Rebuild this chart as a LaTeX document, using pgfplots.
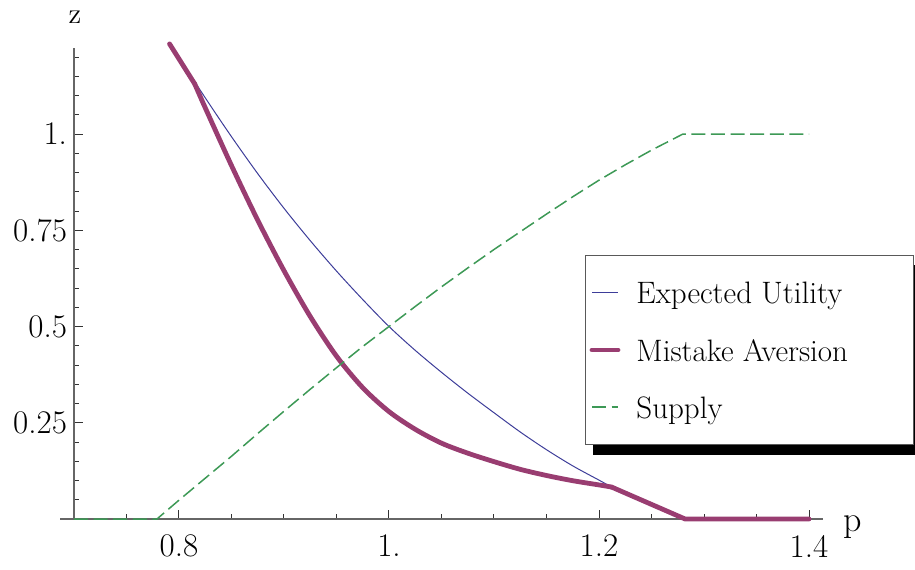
\documentclass[border=0pt]{standalone}
\usepackage{pgfplots}
\pgfplotsset{compat=1.18}
\usetikzlibrary{backgrounds}
\definecolor{eu}{rgb}{0.24,0.24,0.6}
\definecolor{ma}{rgb}{0.6,0.24,0.443}
\definecolor{sup}{rgb}{0.24,0.6,0.337}
\newcommand{\lgt}[1]{\makebox[140.5pt][l]{\hspace{6pt}\strut #1}}
\begin{document}
\begin{tikzpicture}
\useasboundingbox (0,0) rectangle (457.5pt,284.5pt);
\begin{axis}[
  at={(37pt,25pt)}, anchor=south west,
  x=525pt, y=192.5pt,
  xmin=0.7, xmax=1.4133, ymin=0, ymax=1.2234,
  axis x line=bottom, axis y line=left,
  axis line style={-, black!60, line width=0.6pt},
  tick align=inside,
  major tick length=4.5pt, minor tick length=2.6pt,
  tick style={black!80, line width=0.5pt},
  xtick={0.8,1,1.2,1.4}, xticklabels={0.8,1.,1.2,1.4},
  minor xtick={0.75,0.85,0.9,0.95,1.05,1.1,1.15,1.25,1.3,1.35},
  ytick={0.25,0.5,0.75,1}, yticklabels={0.25,0.5,0.75,1.},
  minor ytick={0.05,0.1,0.15,0.2,0.3,0.35,0.4,0.45,0.55,0.6,0.65,0.7,0.8,0.85,0.9,0.95,1.05,1.1,1.15,1.2},
  ticklabel style={font=\fontsize{16.5}{20}\selectfont},
  xticklabel style={yshift=-4.5pt},
  xlabel={p}, ylabel={z},
  every axis x label/.style={at={(axis description cs:1.040,-0.017)}, anchor=center, font=\fontsize{18}{22}\selectfont},
  every axis y label/.style={at={(axis description cs:0.0014,1.066)}, anchor=center, font=\fontsize{14.5}{17}\selectfont},
  clip=false,
  legend style={name=leg, at={(0.6823,0.5605)}, anchor=north west, draw=black!65, fill=white, line width=0.6pt,
    font=\fontsize{15.5}{18}\selectfont, inner xsep=2pt, inner ysep=9.5pt, row sep=10.5pt},
  legend cell align=left,
  legend image code/.code={\draw[#1] (0pt,0pt) -- (13pt,0pt);},
]
% x axis stub left of the y axis
\draw[black!60, line width=0.6pt] (axis cs:0.6867,0) -- (axis cs:0.7,0);

% Expected Utility
\addplot[eu, line width=0.5pt, smooth] coordinates {
 (0.791,1.236) (0.8,1.199) (0.825,1.094) (0.85,0.993) (0.875,0.897) (0.9,0.807)
 (0.925,0.723) (0.95,0.644) (0.975,0.570) (1.0,0.5) (1.025,0.438) (1.05,0.381)
 (1.075,0.327) (1.1,0.276) (1.125,0.226) (1.15,0.180) (1.175,0.138) (1.2,0.101) (1.212,0.083)};
\addlegendentry{\lgt{Expected Utility}}
\addplot[eu, line width=0.5pt, forget plot] coordinates {(1.212,0.083) (1.282,0) (1.4,0)};

% Mistake Aversion
\addplot[ma, line width=2.4pt, line cap=round, line join=round, smooth] coordinates {
 (0.815,1.13) (0.825,1.068) (0.85,0.918) (0.875,0.776) (0.9,0.645) (0.925,0.526)
 (0.95,0.423) (0.975,0.341) (1.0,0.279) (1.025,0.233) (1.05,0.197) (1.075,0.171)
 (1.1,0.149) (1.125,0.129) (1.15,0.113) (1.175,0.0995) (1.2,0.0885) (1.212,0.083)};
\addlegendentry{\lgt{Mistake Aversion}}
\addplot[ma, line width=2.4pt, line cap=round, line join=round, forget plot] coordinates {(0.791,1.234) (0.815,1.13)};
\addplot[ma, line width=2.4pt, line cap=round, line join=round, forget plot] coordinates {(1.212,0.083) (1.282,0) (1.4,0)};

% Supply
\addplot[sup, line width=0.75pt, dash pattern=on 7pt off 2.8pt] coordinates {
 (0.7,0) (0.779,0) (0.8,0.049) (0.825,0.106) (0.85,0.163) (0.875,0.222) (0.9,0.28)
 (0.925,0.337) (0.95,0.393) (0.975,0.448) (1.0,0.5) (1.025,0.552) (1.05,0.603)
 (1.075,0.652) (1.1,0.70) (1.125,0.746) (1.15,0.792) (1.175,0.837) (1.2,0.88)
 (1.225,0.92) (1.25,0.958) (1.28,1.0) (1.4,1.0)};
\addlegendentry{\lgt{Supply}}
\end{axis}
\begin{scope}[on background layer]
\fill[black] ([xshift=4pt,yshift=-5pt]leg.south west) rectangle ([xshift=4pt,yshift=-5pt]leg.north east);
\end{scope}
\end{tikzpicture}
\end{document}
